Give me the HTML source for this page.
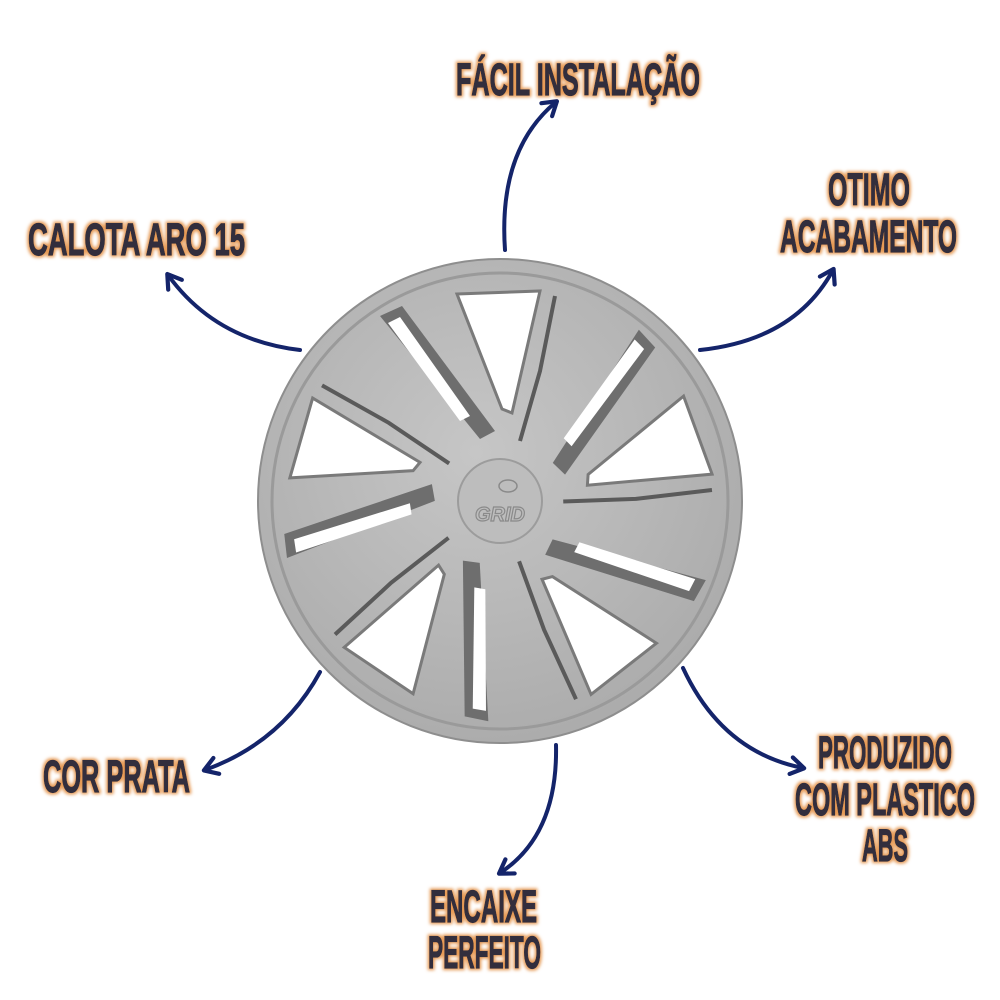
<!DOCTYPE html>
<html><head><meta charset="utf-8">
<style>
html,body{margin:0;padding:0;background:#fff;width:1000px;height:1000px;overflow:hidden}
svg{display:block}
.t{font-family:"Liberation Sans",sans-serif;font-weight:bold;fill:#332e3c;stroke:#332e3c;stroke-width:1.2;font-size:45px;filter:url(#glow)}
</style></head><body>
<svg width="1000" height="1000" viewBox="0 0 1000 1000" xmlns="http://www.w3.org/2000/svg">
<defs>
<filter id="glow" x="-10%" y="-30%" width="120%" height="160%">
<feMorphology in="SourceAlpha" operator="dilate" radius="1.5" result="d"/>
<feGaussianBlur in="d" stdDeviation="1.5" result="b"/>
<feFlood flood-color="#e69a55"/>
<feComposite in2="b" operator="in" result="g"/>
<feMerge><feMergeNode in="g"/><feMergeNode in="SourceGraphic"/></feMerge>
</filter>
<marker id="ah" viewBox="0 0 20 20" refX="14" refY="10" markerWidth="6" markerHeight="6" orient="auto" markerUnits="strokeWidth">
<polyline points="4,3 15,10 4,17" fill="none" stroke="#14246a" stroke-width="3.5" stroke-linecap="round" stroke-linejoin="round"/>
</marker>
<radialGradient id="dg" cx="45%" cy="40%" r="65%">
<stop offset="0" stop-color="#c6c6c6"/><stop offset="1" stop-color="#aaaaaa"/>
</radialGradient>
</defs>

<g fill="none" stroke="#14246a" stroke-width="4" stroke-linecap="round" marker-end="url(#ah)">
<path d="M505,250 Q498,150 556,102"/>
<path d="M300,350 Q215,340 168,275"/>
<path d="M700,350 Q795,340 833,270"/>
<path d="M320,672 Q282,742 205,770"/>
<path d="M683,668 Q722,752 803,768"/>
<path d="M556,745 Q558,835 500,873"/>
</g>

<g transform="translate(500,501)">
<circle r="242" fill="url(#dg)" stroke="#8e8e8e" stroke-width="2"/>
<circle r="228" fill="none" stroke="#9a9a9a" stroke-width="3"/>
<g id="seg">
 <path d="M-43,-207 L40,-210 L12,-88 L2,-92 Z" fill="#fff" stroke="#7a7a7a" stroke-width="3"/>
 <path d="M-120,-185 L-98,-195 L-5,-70 L-20,-62 Z" fill="#6e6e6e"/>
 <path d="M-112,-178 L-100,-184 L-30,-85 L-40,-80 Z" fill="#fff"/>
 <path d="M55,-205 L40,-130 L20,-60" fill="none" stroke="#5a5a5a" stroke-width="4"/>
</g>
<use href="#seg" transform="rotate(72)"/>
<use href="#seg" transform="rotate(144)"/>
<use href="#seg" transform="rotate(216)"/>
<use href="#seg" transform="rotate(288)"/>
<circle r="42" fill="#bdbdbd" stroke="#9c9c9c" stroke-width="2"/>
<ellipse cx="8" cy="-15" rx="9" ry="6" fill="none" stroke="#8a8a8a" stroke-width="1.5"/>
<text x="0" y="20" text-anchor="middle" font-family="Liberation Sans,sans-serif" font-weight="bold" font-style="italic" font-size="20" fill="none" stroke="#8a8a8a" stroke-width="1.2">GRID</text>
</g>

<text class="t" x="456" y="95" textLength="244" lengthAdjust="spacingAndGlyphs">FÁCIL INSTALAÇÃO</text>
<text class="t" x="28" y="255" textLength="217" lengthAdjust="spacingAndGlyphs">CALOTA ARO 15</text>
<text class="t" x="828" y="205" textLength="82" lengthAdjust="spacingAndGlyphs">OTIMO</text>
<text class="t" x="780" y="252" textLength="177" lengthAdjust="spacingAndGlyphs">ACABAMENTO</text>
<text class="t" x="43" y="792" textLength="147" lengthAdjust="spacingAndGlyphs">COR PRATA</text>
<text class="t" x="818" y="768" textLength="134" lengthAdjust="spacingAndGlyphs">PRODUZIDO</text>
<text class="t" x="795" y="815" textLength="180" lengthAdjust="spacingAndGlyphs">COM PLASTICO</text>
<text class="t" x="862" y="861" textLength="46" lengthAdjust="spacingAndGlyphs">ABS</text>
<text class="t" x="430" y="922" textLength="107" lengthAdjust="spacingAndGlyphs">ENCAIXE</text>
<text class="t" x="428" y="968" textLength="113" lengthAdjust="spacingAndGlyphs">PERFEITO</text>
</svg>
</body></html>
